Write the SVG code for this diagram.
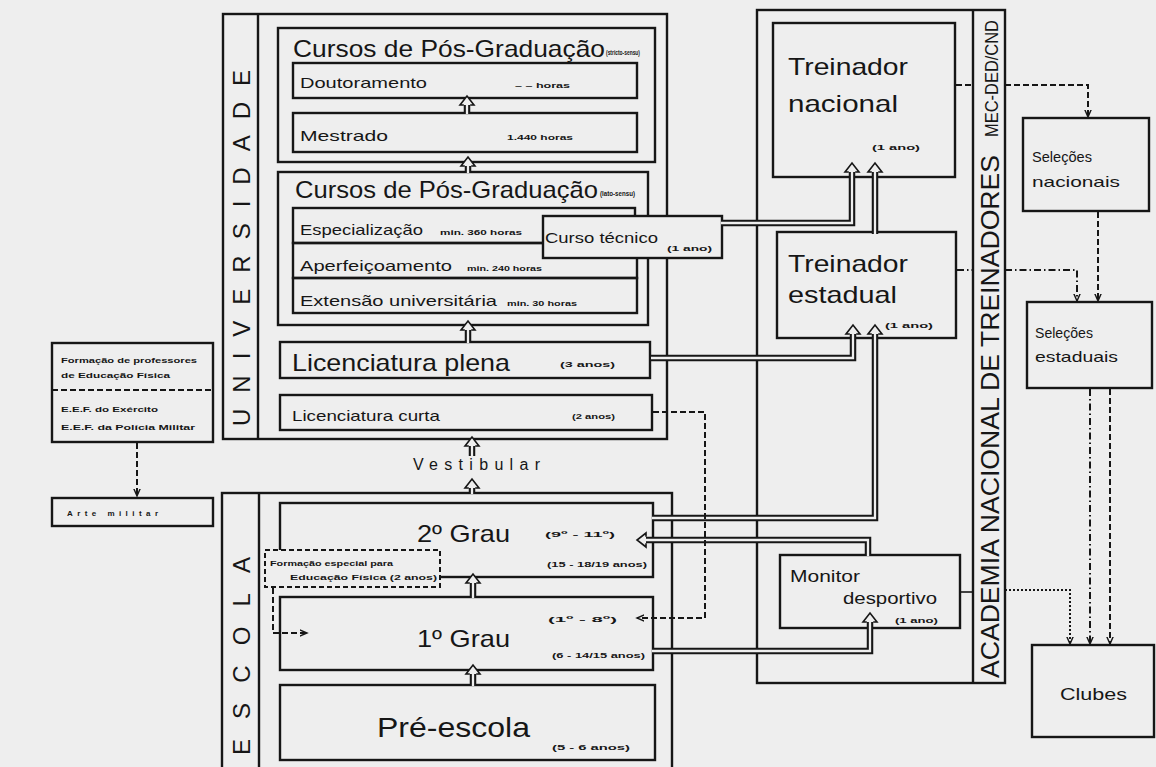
<svg xmlns="http://www.w3.org/2000/svg" xmlns:xlink="http://www.w3.org/1999/xlink" width="1156" height="767" viewBox="0 0 1156 767">
<style>
.b{fill:none;stroke:#161616;stroke-width:2.4}
.bf{fill:#eeeeee;stroke:#161616;stroke-width:2.4}
.dsh{fill:none;stroke:#161616;stroke-width:2;stroke-dasharray:6 3}
.dbf{fill:#eeeeee;stroke:#161616;stroke-width:2;stroke-dasharray:5 3}
.dd{fill:none;stroke:#161616;stroke-width:2;stroke-dasharray:7 3 1.5 3}
.dot{fill:none;stroke:#161616;stroke-width:2;stroke-dasharray:2 2}
.sl{fill:none;stroke:#161616;stroke-width:1.6}
.o{fill:none;stroke:#161616;stroke-width:6.5}
.i{fill:none;stroke:#eeeeee;stroke-width:2.3}
.ah{fill:#eeeeee;stroke:#161616;stroke-width:1.6}
text{font-family:"Liberation Sans",Arial,sans-serif;fill:#161616}
.s{font-size:7px;font-weight:bold}
.m{font-size:8px;font-weight:bold}
.n{font-size:15px}
.l{font-size:24px}
.rv{font-size:26px}
.rs{font-size:24px}
</style>
<defs>
<path id="hu" class="ah" d="M-3.2,9 L-7,9 L0,0 L7,9 L3.2,9"/>
<marker id="v" viewBox="0 0 10 10" refX="8" refY="4" markerWidth="9" markerHeight="9" markerUnits="userSpaceOnUse" orient="auto">
<path d="M0,0.5 L8,4 L0,7.5" fill="none" stroke="#161616" stroke-width="1.6"/>
</marker>
</defs>
<rect x="0" y="0" width="1156" height="767" fill="#eeeeee"/>

<g id="universidade">
<rect class="b" x="223" y="14" width="444" height="425"/>
<line class="b" x1="258" y1="14" x2="258" y2="439"/>
<text class="rs" transform="translate(250,426) rotate(-90)" textLength="356" lengthAdjust="spacing">UNIVERSIDADE</text>
</g>
<g id="stricto">
<rect class="b" x="278" y="28" width="377" height="134"/>
<text class="l" x="293" y="57" textLength="312" lengthAdjust="spacingAndGlyphs">Cursos de Pós-Graduação</text>
<text class="s" x="606" y="55" textLength="34" lengthAdjust="spacingAndGlyphs">(stricto-sensu)</text>
</g>
<g id="doutoramento">
<rect class="b" x="293" y="63" width="344" height="35"/>
<text class="n" x="300" y="88" textLength="127" lengthAdjust="spacingAndGlyphs">Doutoramento</text>
<text class="s" x="515" y="88" textLength="55" lengthAdjust="spacingAndGlyphs">– – horas</text>
</g>
<g id="mestrado">
<rect class="b" x="293" y="113" width="344" height="39"/>
<text class="n" x="300" y="141" textLength="88" lengthAdjust="spacingAndGlyphs">Mestrado</text>
<text class="s" x="507" y="140" textLength="66" lengthAdjust="spacingAndGlyphs">1.440 horas</text>
</g>
<g id="lato">
<rect class="b" x="278" y="172" width="370" height="153"/>
<text class="l" x="295" y="198" textLength="303" lengthAdjust="spacingAndGlyphs">Cursos de Pós-Graduação</text>
<text class="s" x="600" y="196" textLength="35" lengthAdjust="spacingAndGlyphs">(lato-sensu)</text>
</g>
<g id="especializacao">
<rect class="b" x="293" y="208" width="342" height="35"/>
<text class="n" x="300" y="235" textLength="123" lengthAdjust="spacingAndGlyphs">Especialização</text>
<text class="s" x="440" y="235" textLength="82" lengthAdjust="spacingAndGlyphs">min. 360 horas</text>
</g>
<g id="aperfeicoamento">
<rect class="b" x="293" y="243" width="344" height="35"/>
<text class="n" x="300" y="271" textLength="152" lengthAdjust="spacingAndGlyphs">Aperfeiçoamento</text>
<text class="s" x="467" y="271" textLength="75" lengthAdjust="spacingAndGlyphs">min. 240 horas</text>
</g>
<g id="extensao">
<rect class="b" x="293" y="278" width="344" height="35"/>
<text class="n" x="300" y="306" textLength="197" lengthAdjust="spacingAndGlyphs">Extensão universitária</text>
<text class="s" x="507" y="306" textLength="70" lengthAdjust="spacingAndGlyphs">min. 30 horas</text>
</g>
<g id="curso-tecnico">
<rect class="bf" x="543" y="216" width="179" height="42"/>
<text class="n" x="545" y="243" textLength="113" lengthAdjust="spacingAndGlyphs">Curso técnico</text>
<text class="m" x="667" y="251" textLength="45" lengthAdjust="spacingAndGlyphs">(1 ano)</text>
</g>
<g id="lic-plena">
<rect class="b" x="280" y="342" width="370" height="36"/>
<text class="l" x="292" y="371" textLength="218" lengthAdjust="spacingAndGlyphs">Licenciatura plena</text>
<text class="m" x="560" y="367" textLength="55" lengthAdjust="spacingAndGlyphs">(3 anos)</text>
</g>
<g id="lic-curta">
<rect class="b" x="280" y="395" width="372" height="35"/>
<text class="n" x="292" y="421" textLength="148" lengthAdjust="spacingAndGlyphs">Licenciatura curta</text>
<text class="m" x="572" y="419" textLength="43" lengthAdjust="spacingAndGlyphs">(2 anos)</text>
</g>

<g id="formacao-professores">
<rect class="b" x="52" y="343" width="161" height="99"/>
<line class="dsh" x1="52" y1="390" x2="213" y2="390"/>
<text class="m" x="61" y="363" textLength="136" lengthAdjust="spacingAndGlyphs">Formação de professores</text>
<text class="m" x="61" y="378" textLength="109" lengthAdjust="spacingAndGlyphs">de Educação Física</text>
<text class="m" x="61" y="412" textLength="97" lengthAdjust="spacingAndGlyphs">E.E.F. do Exército</text>
<text class="m" x="61" y="430" textLength="134" lengthAdjust="spacingAndGlyphs">E.E.F. da Polícia Militar</text>
</g>
<g id="arte-militar">
<rect class="b" x="52" y="498" width="161" height="28"/>
<text class="m" x="67" y="516" textLength="91" lengthAdjust="spacing">Arte militar</text>
</g>

<g id="vestibular">
<text x="413" y="470" font-size="16" textLength="127" lengthAdjust="spacing">Vestibular</text>
</g>

<g id="escola">
<rect class="b" x="222" y="493" width="450" height="290"/>
<line class="b" x1="259" y1="493" x2="259" y2="767"/>
<text class="rs" transform="translate(250,755) rotate(-90)" textLength="198" lengthAdjust="spacing">ESCOLA</text>
</g>
<g id="grau2">
<rect class="b" x="280" y="503" width="373" height="74"/>
<text class="l" x="417" y="542" textLength="93" lengthAdjust="spacingAndGlyphs">2º Grau</text>
<text class="m" x="545" y="537" textLength="70" lengthAdjust="spacingAndGlyphs">(9º - 11º)</text>
<text class="s" x="547" y="567" textLength="100" lengthAdjust="spacingAndGlyphs">(15 - 18/19 anos)</text>
</g>
<g id="formacao-especial">
<rect class="dbf" x="265" y="550" width="175" height="37"/>
<text class="s" x="270" y="566" textLength="123" lengthAdjust="spacingAndGlyphs">Formação especial para</text>
<text class="s" x="290" y="580" textLength="147" lengthAdjust="spacingAndGlyphs">Educação Física (2 anos)</text>
</g>
<g id="grau1">
<rect class="b" x="280" y="597" width="373" height="73"/>
<text class="l" x="417" y="647" textLength="93" lengthAdjust="spacingAndGlyphs">1º Grau</text>
<text class="m" x="548" y="622" textLength="69" lengthAdjust="spacingAndGlyphs">(1º - 8º)</text>
<text class="s" x="552" y="658" textLength="93" lengthAdjust="spacingAndGlyphs">(6 - 14/15 anos)</text>
</g>
<g id="pre-escola">
<rect class="b" x="280" y="685" width="375" height="75"/>
<text x="377" y="737" font-size="28" textLength="153" lengthAdjust="spacingAndGlyphs">Pré-escola</text>
<text class="s" x="552" y="750" textLength="78" lengthAdjust="spacingAndGlyphs">(5 - 6 anos)</text>
</g>

<g id="academia">
<rect class="b" x="757" y="10" width="248" height="673"/>
<line class="b" x1="973" y1="10" x2="973" y2="683"/>
<text class="rv" transform="translate(999,678) rotate(-90)" textLength="523" lengthAdjust="spacingAndGlyphs">ACADEMIA NACIONAL DE TREINADORES</text>
<text transform="translate(998,137) rotate(-90)" font-size="19" textLength="117" lengthAdjust="spacingAndGlyphs">MEC-DED/CND</text>
</g>
<g id="treinador-nacional">
<rect class="b" x="773" y="23" width="182" height="154"/>
<text class="l" x="788" y="75" textLength="120" lengthAdjust="spacingAndGlyphs">Treinador</text>
<text class="l" x="788" y="112" textLength="110" lengthAdjust="spacingAndGlyphs">nacional</text>
<text class="m" x="872" y="150" textLength="48" lengthAdjust="spacingAndGlyphs">(1 ano)</text>
</g>
<g id="treinador-estadual">
<rect class="b" x="777" y="232" width="179" height="106"/>
<text class="l" x="788" y="272" textLength="120" lengthAdjust="spacingAndGlyphs">Treinador</text>
<text class="l" x="788" y="303" textLength="109" lengthAdjust="spacingAndGlyphs">estadual</text>
<text class="m" x="885" y="328" textLength="48" lengthAdjust="spacingAndGlyphs">(1 ano)</text>
</g>
<g id="monitor">
<rect class="b" x="780" y="555" width="180" height="73"/>
<text x="790" y="582" font-size="17" textLength="70" lengthAdjust="spacingAndGlyphs">Monitor</text>
<text x="843" y="604" font-size="17" textLength="94" lengthAdjust="spacingAndGlyphs">desportivo</text>
<text class="m" x="895" y="623" textLength="43" lengthAdjust="spacingAndGlyphs">(1 ano)</text>
</g>

<g id="selecoes-nacionais">
<rect class="b" x="1023" y="118" width="126" height="93"/>
<text class="n" x="1032" y="162" textLength="60" lengthAdjust="spacingAndGlyphs">Seleções</text>
<text class="n" x="1032" y="187" textLength="88" lengthAdjust="spacingAndGlyphs">nacionais</text>
</g>
<g id="selecoes-estaduais">
<rect class="b" x="1027" y="302" width="125" height="86"/>
<text class="n" x="1035" y="338" textLength="58" lengthAdjust="spacingAndGlyphs">Seleções</text>
<text class="n" x="1035" y="362" textLength="83" lengthAdjust="spacingAndGlyphs">estaduais</text>
</g>
<g id="clubes">
<rect class="b" x="1032" y="645" width="122" height="92"/>
<text x="1060" y="700" font-size="16" textLength="67" lengthAdjust="spacingAndGlyphs">Clubes</text>
</g>

<g id="connectors">
<path class="o" d="M467,114 V105"/><path class="i" d="M467,114 V105"/><use xlink:href="#hu" href="#hu" transform="translate(467,96)"/>
<path class="o" d="M468,173 V166"/><path class="i" d="M468,173 V166"/><use xlink:href="#hu" href="#hu" transform="translate(468,157)"/>
<path class="o" d="M468,343 V330"/><path class="i" d="M468,343 V330"/><use xlink:href="#hu" href="#hu" transform="translate(468,321)"/>
<path class="o" d="M472,456 V446"/><path class="i" d="M472,456 V446"/><use xlink:href="#hu" href="#hu" transform="translate(472,437)"/>
<path class="o" d="M472,494 V488"/><path class="i" d="M472,494 V488"/><use xlink:href="#hu" href="#hu" transform="translate(472,479)"/>
<path class="o" d="M473,598 V583"/><path class="i" d="M473,598 V583"/><use xlink:href="#hu" href="#hu" transform="translate(473,574)"/>
<path class="o" d="M473,686 V674"/><path class="i" d="M473,686 V674"/><use xlink:href="#hu" href="#hu" transform="translate(473,665)"/>
<path class="o" d="M721,223 H852 V172"/><path class="i" d="M721,223 H852 V172"/><use xlink:href="#hu" href="#hu" transform="translate(852,163)"/>
<path class="o" d="M875,234 V172"/><path class="i" d="M875,234 V172"/><use xlink:href="#hu" href="#hu" transform="translate(875,163)"/>
<path class="o" d="M651,358 H853 V334"/><path class="i" d="M651,358 H853 V334"/><use xlink:href="#hu" href="#hu" transform="translate(853,325)"/>
<path class="o" d="M652,518 H875 V334"/><path class="i" d="M652,518 H875 V334"/><use xlink:href="#hu" href="#hu" transform="translate(875,325)"/>
<path class="o" d="M868,556 V540 H646"/><path class="i" d="M868,556 V540 H646"/><use xlink:href="#hu" href="#hu" transform="translate(637,540) rotate(-90)"/>
<path class="o" d="M652,651 H870 V622"/><path class="i" d="M652,651 H870 V622"/><use xlink:href="#hu" href="#hu" transform="translate(870,613)"/>
<path class="dsh" d="M137,443 V496" marker-end="url(#v)"/>
<path class="dsh" d="M273,588 V633 H307" marker-end="url(#v)"/>
<path class="dsh" d="M653,412 H705 V618 H637" marker-end="url(#v)"/>
<path class="dsh" d="M956,85 H973"/>
<path class="dsh" d="M1005,85 H1088 V117" marker-end="url(#v)"/>
<path class="dsh" d="M1098,212 V301" marker-end="url(#v)"/>
<path class="dd" d="M957,270 H973"/>
<path class="dd" d="M1005,270 H1077 V301" marker-end="url(#v)"/>
<path class="dd" d="M1090,389 V644" marker-end="url(#v)"/>
<path class="dsh" d="M1110,389 V644" marker-end="url(#v)"/>
<path class="sl" d="M961,592 H973"/>
<path class="dot" d="M1005,590 H1070 V644" marker-end="url(#v)"/>
</g>
</svg>
